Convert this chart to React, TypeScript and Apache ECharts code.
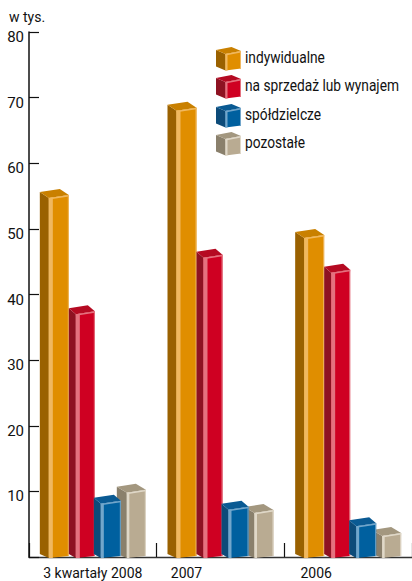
import React, { useEffect, useRef } from "react";
import * as echarts from "echarts";

const categories = ["3 kwartały 2008", "2007", "2006"];
const seriesNames = ["indywidualne", "na sprzedaż lub wynajem", "spółdzielcze", "pozostałe"];
const indywidualne = [54.7, 68, 48.6];
const naSprzedaz = [37, 45.6, 43.3];
const spoldzielcze = [8.1, 7.2, 4.7];
const pozostale = [9.8, 6.7, 3.2];
const yTicks = [0, 80];

const FONT = 'Roboto, "Liberation Sans", sans-serif';

const palettes = [
  { front: "#e08e00", side: "#9a6100", top: "#c98000", light: "#f0b860" },
  { front: "#cf0022", side: "#8e1222", top: "#b50a22", light: "#e4727f" },
  { front: "#00609f", side: "#0d4b79", top: "#0a5a93", light: "#72a6cb" },
  { front: "#b9ab92", side: "#8a806c", top: "#a3977f", light: "#e0d8c8" },
];
const geom = [
  { off: -44, w: 20, d: 9, hl: 4 },
  { off: -17, w: 19, d: 7, hl: 4 },
  { off: 8, w: 20, d: 7, hl: 3 },
  { off: 34, w: 19, d: 10, hl: 2.5 },
];
const labelPadding = [0, 68, 64];

function cube(x: number, y: number, w: number, d: number, bottom: number, p: any, drop: number, rise: number, hl: number) {
  const fx = x;
  const rx = x + w;
  return [
    { type: "polygon", shape: { points: [[fx - d, y - drop], [fx, y], [fx, bottom], [fx - d, bottom - 4]] }, style: { fill: p.side } },
    { type: "polygon", shape: { points: [[fx - d, y - drop], [rx - d, y - drop - rise], [rx, y - rise], [fx, y]] }, style: { fill: p.top } },
    { type: "polygon", shape: { points: [[fx, y], [rx, y - rise], [rx, bottom - 2], [fx, bottom]] }, style: { fill: p.front } },
    { type: "polygon", shape: { points: [[fx, y], [fx + hl, y - 0.5], [fx + hl, bottom], [fx, bottom]] }, style: { fill: p.light } },
    { type: "polygon", shape: { points: [[fx, y], [rx, y - rise], [rx, y - rise + 1.5], [fx, y + 1.5]] }, style: { fill: p.light } },
    { type: "polygon", shape: { points: [[rx - 1, y - rise], [rx, y - rise], [rx, bottom - 2], [rx - 1, bottom - 2]] }, style: { fill: p.light } },
  ];
}

function makeSeries(name: string, data: number[], i: number) {
  return {
    type: "custom",
    name,
    z: i === 2 ? 5 : 3,
    clip: false,
    data: data.map((v, k) => [k, v]),
    encode: { x: 0, y: 1 },
    renderItem: (_: any, api: any) => {
      const [cx, y] = api.coord([api.value(0), api.value(1)]);
      const [, base] = api.coord([0, 0]);
      const g = geom[i];
      return { type: "group", children: cube(cx + g.off, y, g.w, g.d, base + 1, palettes[i], 6, 3, g.hl) };
    },
  };
}

export default function App() {
  const ref = useRef<HTMLDivElement>(null);
  useEffect(() => {
    const chart = echarts.init(ref.current!, undefined, { renderer: "svg" });
    const legendY = [46, 74, 103, 131];
    const legend: any[] = [];
    seriesNames.forEach((n, i) => {
      legend.push({
        type: "group",
        z: 10,
        children: cube(225.5, legendY[i] + 8, 15.5, 9.5, legendY[i] + 24.5, palettes[i], 4, 3, 2),
      });
      legend.push({
        type: "text",
        z: 10,
        x: 245,
        y: legendY[i] + 12,
        scaleX: 0.86,
        style: { text: n, font: `16px ${FONT}`, fill: "#111", textVerticalAlign: "middle" },
      });
    });
    chart.setOption({
      animation: false,
      grid: { left: 29, top: 32, width: 384, height: 525, containLabel: false },
      xAxis: {
        type: "category",
        data: categories.map((c, i) => ({
          value: c,
          textStyle: { padding: [0, labelPadding[i], 0, 0] },
        })),
        axisLine: { lineStyle: { color: "#333", width: 1.3 } },
        axisTick: { show: true, inside: true, alignWithLabel: false, length: 14, lineStyle: { color: "#111", width: 1.2 } },
        axisLabel: { color: "#111", fontFamily: FONT, fontSize: 14, margin: 9, interval: 0 },
        splitLine: { show: false },
      },
      yAxis: {
        type: "value",
        min: yTicks[0],
        max: yTicks[1],
        interval: 10,
        name: "w tys.",
        nameLocation: "end",
        nameGap: 8,
        nameTextStyle: { color: "#111", fontFamily: FONT, fontSize: 14, align: "left", padding: [0, 0, 0, -20] },
        axisLine: { show: true, onZero: false, lineStyle: { color: "#111", width: 1.5 } },
        axisTick: { show: true, inside: true, length: 10, lineStyle: { color: "#111", width: 1.2 } },
        axisLabel: {
          color: "#111",
          fontFamily: FONT,
          fontSize: 15,
          margin: 5,
          verticalAlign: "top",
          lineHeight: 10,
          formatter: (v: number) => (v === 0 ? "" : String(v)),
        },
        splitLine: { show: false },
      },
      series: [
        makeSeries(seriesNames[0], indywidualne, 0),
        makeSeries(seriesNames[1], naSprzedaz, 1),
        makeSeries(seriesNames[2], spoldzielcze, 2),
        makeSeries(seriesNames[3], pozostale, 3),
      ],
      graphic: legend,
    });
    return () => chart.dispose();
  }, []);
  return <div ref={ref} style={{ position: "absolute", left: 0, top: 0, width: 412, height: 581 }} />;
}
